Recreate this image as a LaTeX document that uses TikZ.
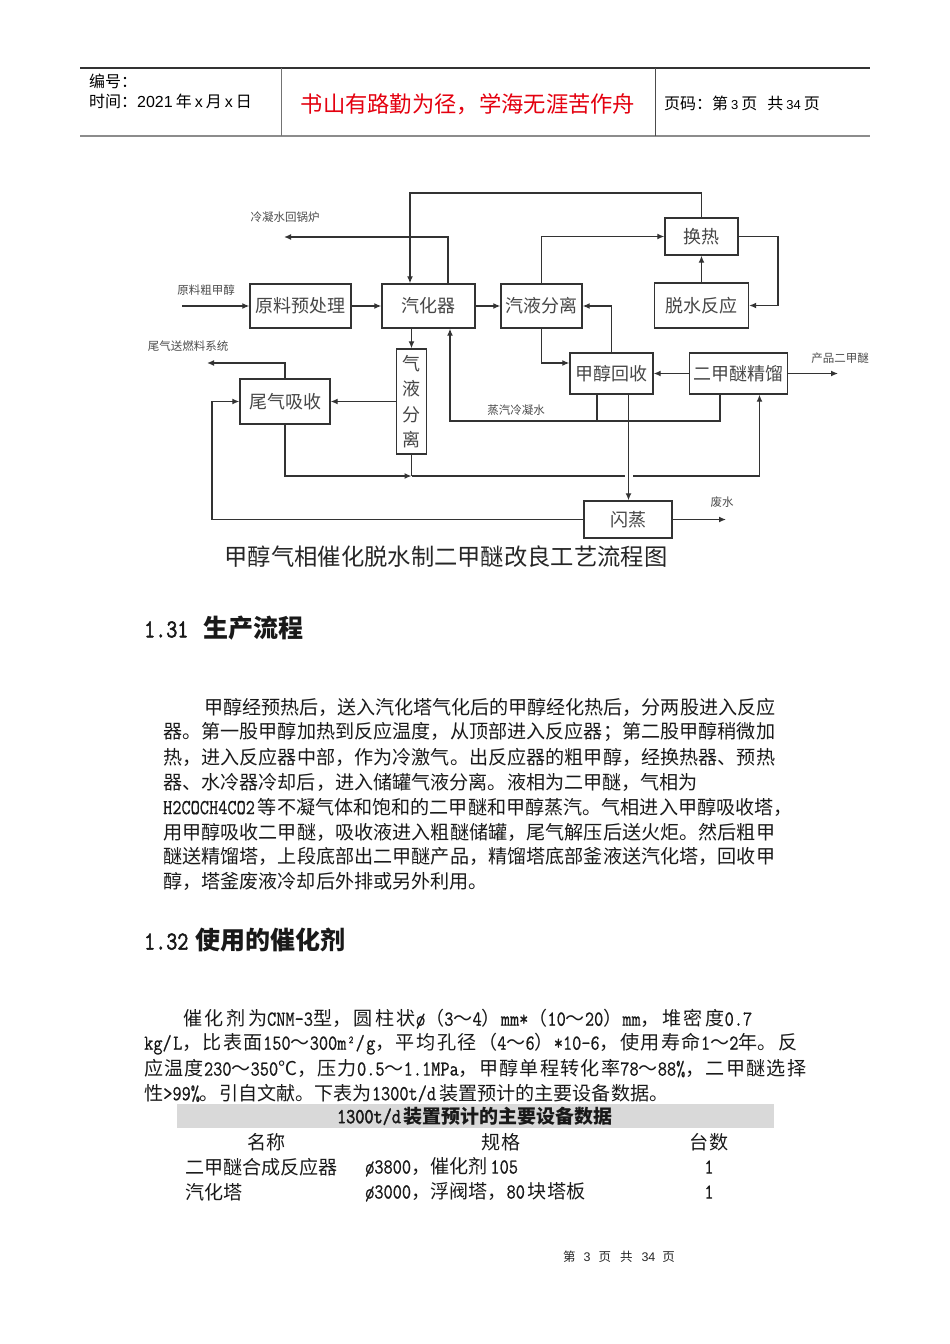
\documentclass[tikz,border=0pt]{standalone}
\usepackage{fontspec}
\setmainfont{Liberation Serif}
\newfontfamily\cjk{Noto Sans CJK SC}
\newfontfamily\latn[Scale=1.12, FakeStretch=0.833, FakeBold=0.6]{Latin Modern Mono}
\newfontfamily\latnb[Scale=1.12, FakeStretch=0.833, FakeBold=2]{Latin Modern Mono}
\newfontfamily\hsans{Liberation Sans}
\usetikzlibrary{arrows.meta}
\XeTeXlinebreaklocale "zh"
\XeTeXlinebreakskip=0pt plus 6pt minus 1pt
\newcommand\lt[1]{{\latn #1}}
\newcommand\hs[1]{{\hsans #1}}
\newcommand\gp{\hspace{3pt}}
\newcommand\jline[2]{\parbox{#1}{\parfillskip=0pt\noindent #2}}
\definecolor{hdred}{RGB}{228,0,15}
\definecolor{band}{RGB}{217,217,217}
\begin{document}
\begin{tikzpicture}[x=1pt,y=-1pt,
  box/.style={draw=black!80, line width=1.4pt, fill=white, inner sep=0pt,
    font=\cjk\fontsize{18}{18}\selectfont, text=black!72},
  ar/.style={-{Latex[length=7pt,width=6pt]}, line width=1.3pt, draw=black!80},
  ln/.style={line width=1.3pt, draw=black!80},
  lab/.style={font=\cjk\fontsize{11.5}{11.5}\selectfont, text=black!70, inner sep=0pt},
  body/.style={font=\cjk\fontsize{19.1}{19.1}\selectfont, anchor=west, inner sep=0pt, text=black!90},
  hd/.style={font=\cjk\fontsize{16}{16}\selectfont, anchor=west, inner sep=0pt, text=black},
]
\useasboundingbox (0,0) rectangle (950,1344);
\fill[white] (0,0) rectangle (950,1344);

% ---------- header ----------
\draw[line width=1.2pt, black!80] (80,68) -- (870,68);
\draw[line width=2pt, black!45] (80,136) -- (870,136);
\draw[line width=1pt, black!55] (281,68) -- (281,136);
\draw[line width=1pt, black!70] (655,68) -- (655,136);
\node[hd] (h1) at (89,81) {编号：};
\node[hd] (h2) at (89,101) {时间：\hs{2021}\hspace{3pt}年\hspace{3pt}\hs{x}\hspace{3pt}月\hspace{3pt}\hs{x}\hspace{3pt}日};
\node[font=\cjk\fontsize{22.3}{22.3}\selectfont, text=hdred, inner sep=0pt] (h3) at (468,104) {书山有路勤为径，学海无涯苦作舟};
\node[hd] (h4) at (664,103) {页码：第\hspace{3pt}\hs{\fontsize{13}{13}\selectfont 3}\hspace{3pt}页\hspace{10pt}共\hspace{3pt}\hs{\fontsize{13}{13}\selectfont 34}\hspace{3pt}页};

% ---------- diagram boxes ----------
\node[box, minimum width=101pt, minimum height=44pt] (pre) at (300.5,306) {原料预处理};
\node[box, minimum width=93pt, minimum height=44pt] (vap) at (428.5,306) {汽化器};
\node[box, minimum width=81pt, minimum height=44pt] (sep1) at (541.5,306) {汽液分离};
\node[box, minimum width=73pt, minimum height=37pt] (hx) at (701.5,236.5) {换热};
\node[box, minimum width=94pt, minimum height=45pt] (rx) at (701.5,305.5) {脱水反应};
\node[box, minimum width=30pt, minimum height=105pt, align=center,
  font=\cjk\fontsize{18}{25.5}\selectfont] (gls) at (411.5,401.5) {气\\液\\分\\离};
\node[box, minimum width=90pt, minimum height=45pt] (tail) at (285,401.5) {尾气吸收};
\node[box, minimum width=83pt, minimum height=41pt] (mrec) at (611.5,373.5) {甲醇回收};
\node[box, minimum width=98pt, minimum height=41pt] (dist) at (738.5,373.5) {二甲醚精馏};
\node[box, minimum width=88pt, minimum height=37pt] (flash) at (628,519.5) {闪蒸};

% ---------- free ends / bends ----------
\coordinate (inA) at (182,306);
\coordinate (cw) at (284,237);
\coordinate (t5) at (410,193);
\coordinate (r7) at (778,0);
\coordinate (prod) at (838,373.5);
\coordinate (fuel) at (207,363);
\coordinate (sw) at (450,421);
\coordinate (sA) at (597,421);
\coordinate (sB) at (720,421);
\coordinate (fd) at (628.5,0);
\coordinate (ww) at (726,519.5);
\coordinate (lp) at (212,0);
\coordinate (jn) at (411.5,476);
\coordinate (up) at (759.5,0);
\coordinate (vt) at (448,0);

% ---------- connectors ----------
\draw[ar] (inA) -- (pre.west);
\draw[ar] (pre.east) -- (vap.west);
\draw[ar] (vap.east) -- (sep1.west);
\draw[ar] (vt |- vap.north) |- (cw);
\draw[ar] (hx.north) |- (t5) -- (t5 |- vap.north);
\draw[ar] (sep1.north) |- (hx.west);
\draw[ar] (hx.east) -- (hx.east -| r7) |- (rx.east);
\draw[ar] (rx.north) -- (hx.south);
\draw[ar] (sep1.south) |- ([yshift=10.5pt]mrec.west);
\draw[ar] (mrec.north) |- (sep1.east);
\draw[ar] (dist.west) -- (mrec.east);
\draw[ar] (dist.east) -- (prod);
\draw[ar] (gls.north |- vap.south) -- (gls.north);
\draw[ar] (gls.west) -- (tail.east);
\draw[ar] (tail.north) |- (fuel);
\draw[ln] (sA |- mrec.south) -- (sA);
\draw[ar] (sB |- dist.south) -- (sB) -- (sw) -- (sw |- vap.south);
\draw[ar] (tail.south) |- (jn);
\draw[ln] (gls.south) -- (jn);
\draw[ar] (jn) -| (up |- dist.south);
\draw[white, line width=3pt] (624.5,476) -- (632.5,476);
\draw[ar] (fd |- mrec.south) -- (fd |- flash.north);
\draw[ar] (flash.east) -- (ww);
\draw[ar] (flash.west) -| (lp |- tail.west) -- (tail.west);

% ---------- diagram labels ----------
\node[lab] (l1) at (206,290) {原料粗甲醇};
\node[lab] (l2) at (285,217) {冷凝水回锅炉};
\node[lab] (l3) at (188,346) {尾气送燃料系统};
\node[lab] (l4) at (840,358) {产品二甲醚};
\node[lab] (l5) at (516,410) {蒸汽冷凝水};
\node[lab] (l6) at (722,502) {废水};
\node[font=\cjk\fontsize{23.3}{23.3}\selectfont, text=black!85, inner sep=0pt] (cap) at (446,557) {甲醇气相催化脱水制二甲醚改良工艺流程图};

% ---------- section 1.31 ----------
\node[body, font=\cjk\bfseries\fontsize{25}{25}\selectfont] (s1) at (144,628) {{\latnb\fontsize{23}{23}\selectfont 1.31}\hspace{15pt}生产流程};
\node[body] (p1) at (204,707.5) {\jline{571pt}{甲醇经预热后，送入汽化塔气化后的甲醇经化热后，分两股进入反应}};
\node[body] (p2) at (163,732.4) {\jline{612pt}{器。第一股甲醇加热到反应温度，从顶部进入反应器；第二股甲醇稍微加}};
\node[body] (p3) at (163,757.3) {\jline{612pt}{热，进入反应器中部，作为冷激气。出反应器的粗甲醇，经换热器、预热}};
\node[body] (p4) at (163,782.2) {器、水冷器冷却后，进入储罐气液分离。液相为二甲醚，气相为};
\node[body] (p5) at (163,807.1) {\lt{H2COCH4CO2}\gp 等不凝气体和饱和的二甲醚和甲醇蒸汽。气相进入甲醇吸收塔，};
\node[body] (p6) at (163,832) {\jline{612pt}{用甲醇吸收二甲醚，吸收液进入粗醚储罐，尾气解压后送火炬。然后粗甲}};
\node[body] (p7) at (163,856.9) {\jline{612pt}{醚送精馏塔，上段底部出二甲醚产品，精馏塔底部釜液送汽化塔，回收甲}};
\node[body] (p8) at (163,881.8) {醇，塔釜废液冷却后外排或另外利用。};

% ---------- section 1.32 ----------
\node[body, font=\cjk\bfseries\fontsize{25}{25}\selectfont] (s2) at (144,940) {{\latnb\fontsize{23}{23}\selectfont 1.32}\hspace{7pt}使用的催化剂};
\node[body] (q1) at (183,1019) {\jline{569pt}{催化剂为\lt{CNM-3}型，圆柱状\lt{ø}（\lt{3}～\lt{4}）\lt{mm*}（\lt{10}～\lt{20}）\lt{mm}，堆密度\lt{0.7}}};
\node[body] (q2) at (144,1044) {\jline{653pt}{\lt{kg/L}，比表面\lt{150}～\lt{300m²/g}，平均孔径（\lt{4}～\lt{6}）\lt{*10-6}，使用寿命\lt{1}～\lt{2}年。反}};
\node[body] (q3) at (144,1068.5) {\jline{662pt}{应温度\lt{230}～\lt{350}℃，压力\lt{0.5}～\lt{1.1MPa}，甲醇单程转化率\lt{78}～\lt{88\%}，二甲醚选择}};
\node[body] (q4) at (144,1093) {性\lt{>99\%}。引自文献。下表为\lt{1300t/d}\gp 装置预计的主要设备数据。};

% ---------- table ----------
\fill[band] (177,1104) rectangle (774,1128);
\node[body, anchor=center, font=\cjk\bfseries\fontsize{19}{19}\selectfont] (tt) at (475,1116) {{\latnb\fontsize{19}{19}\selectfont 1300t/d}\gp 装置预计的主要设备数据};
\node[body, anchor=center] (c1) at (266.5,1142) {名称};
\node[body, anchor=center] (c2) at (501,1142) {规格};
\node[body, anchor=center] (c3) at (709,1142) {台数};
\node[body] (r1a) at (185,1167) {二甲醚合成反应器};
\node[body] (r1b) at (365,1167) {\lt{ø3800}，催化剂\gp\lt{105}};
\node[body, anchor=center] (r1c) at (709,1167) {\lt{1}};
\node[body] (r2a) at (185,1192) {汽化塔};
\node[body] (r2b) at (365,1192) {\lt{ø3000}，浮阀塔，\lt{80}\gp 块塔板};
\node[body, anchor=center] (r2c) at (709,1192) {\lt{1}};

% ---------- footer ----------
\node[font=\cjk\fontsize{12.5}{12.5}\selectfont, text=black!85, inner sep=0pt] (ft) at (619,1256.5) {第\hspace{8pt}\hs{3}\hspace{8pt}页\hspace{9pt}共\hspace{9pt}\hs{34}\hspace{7pt}页};
\end{tikzpicture}
\end{document}
